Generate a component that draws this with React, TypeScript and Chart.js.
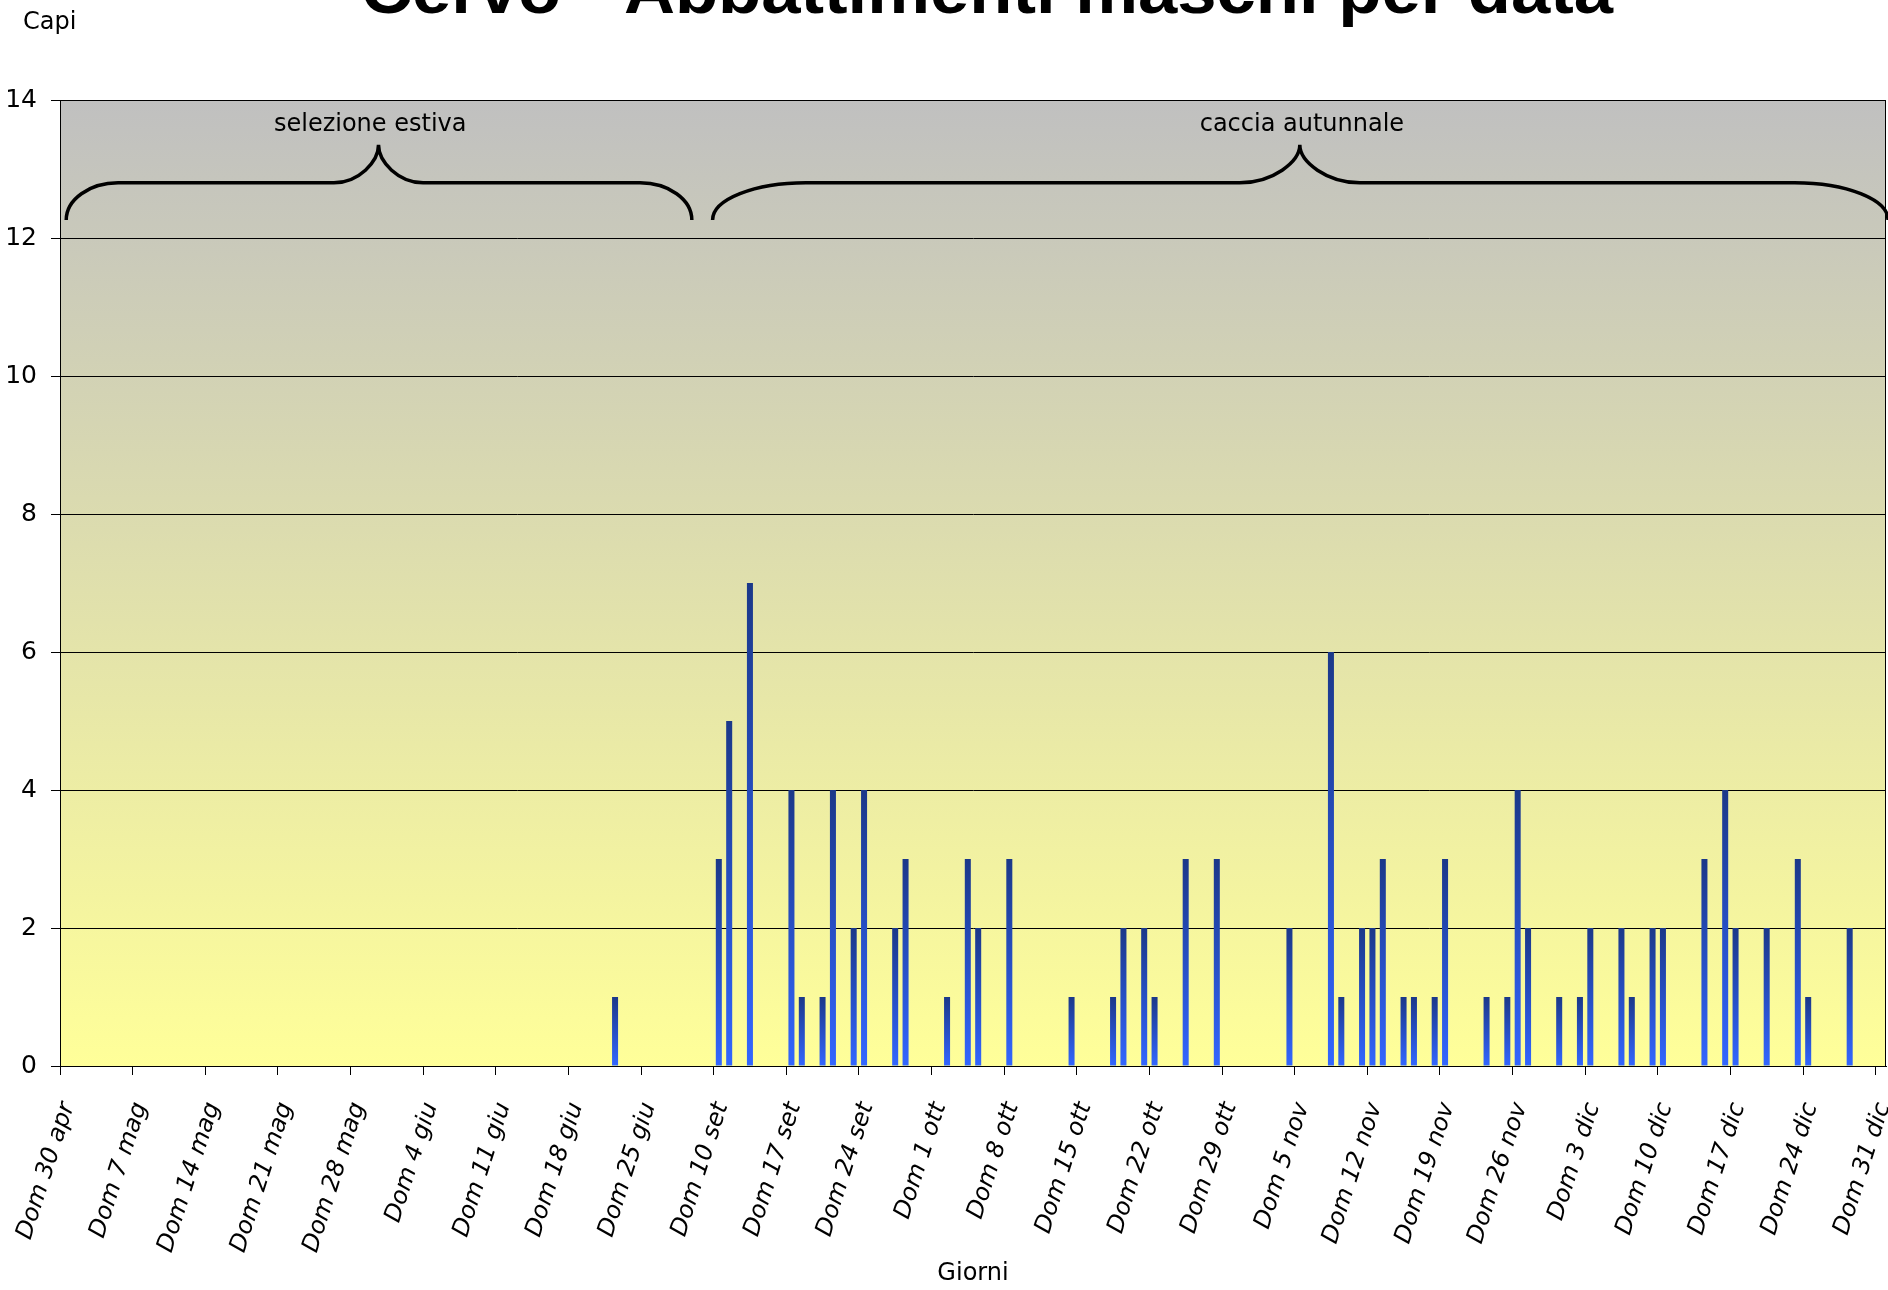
import React, { useEffect, useRef } from 'react';
import { Chart, registerables } from 'chart.js';

Chart.register(...registerables);

// ---- data ----
const weekdayNames = ['Dom', 'Lun', 'Mar', 'Mer', 'Gio', 'Ven', 'Sab'];
const monthNames = ['gen', 'feb', 'mar', 'apr', 'mag', 'giu', 'lug', 'ago', 'set', 'ott', 'nov', 'dic'];
// two hunting periods shown back to back (daily categories)
const periodStarts = [[2006, 3, 30], [2006, 8, 10]];
const periodLengths = [63, 113];

const tickLabels = [
  'Dom 30 apr', 'Dom 7 mag', 'Dom 14 mag', 'Dom 21 mag', 'Dom 28 mag', 'Dom 4 giu',
  'Dom 11 giu', 'Dom 18 giu', 'Dom 25 giu', 'Dom 10 set', 'Dom 17 set', 'Dom 24 set',
  'Dom 1 ott', 'Dom 8 ott', 'Dom 15 ott', 'Dom 22 ott', 'Dom 29 ott', 'Dom 5 nov',
  'Dom 12 nov', 'Dom 19 nov', 'Dom 26 nov', 'Dom 3 dic', 'Dom 10 dic', 'Dom 17 dic',
  'Dom 24 dic', 'Dom 31 dic',
];

// capi abbattuti per giorno (one row per week)
const capi = [
  0, 0, 0, 0, 0, 0, 0,
  0, 0, 0, 0, 0, 0, 0,
  0, 0, 0, 0, 0, 0, 0,
  0, 0, 0, 0, 0, 0, 0,
  0, 0, 0, 0, 0, 0, 0,
  0, 0, 0, 0, 0, 0, 0,
  0, 0, 0, 0, 0, 0, 0,
  0, 0, 0, 0, 1, 0, 0,
  0, 0, 0, 0, 0, 0, 0,
  3, 5, 0, 7, 0, 0, 0,
  4, 1, 0, 1, 4, 0, 2,
  4, 0, 0, 2, 3, 0, 0,
  0, 1, 0, 3, 2, 0, 0,
  3, 0, 0, 0, 0, 0, 1,
  0, 0, 0, 1, 2, 0, 2,
  1, 0, 0, 3, 0, 0, 3,
  0, 0, 0, 0, 0, 0, 2,
  0, 0, 0, 6, 1, 0, 2,
  2, 3, 0, 1, 1, 0, 1,
  3, 0, 0, 0, 1, 0, 1,
  4, 2, 0, 0, 1, 0, 1,
  2, 0, 0, 2, 1, 0, 2,
  2, 0, 0, 0, 3, 0, 4,
  2, 0, 0, 2, 0, 0, 3,
  1, 0, 0, 0, 2, 0, 0,
  0,
];

const yTicks = [0, 2, 4, 6, 8, 10, 12, 14];

function buildDays(start: number[], n: number): string[] {
  const out: string[] = [];
  for (let i = 0; i < n; i++) {
    const d = new Date(Date.UTC(start[0], start[1], start[2] + i));
    out.push(weekdayNames[d.getUTCDay()] + ' ' + d.getUTCDate() + ' ' + monthNames[d.getUTCMonth()]);
  }
  return out;
}
const categories = [
  ...buildDays(periodStarts[0], periodLengths[0]),
  ...buildDays(periodStarts[1], periodLengths[1]),
];

// ---- annotations (category units / value units) ----
const braces = [
  { label: 'selezione estiva', from: 0.6, to: 60.9, tip: 30.7, text: 29.9, corner: 5.0, tipW: 4.3 },
  { label: 'caccia autunnale', from: 62.9, to: 176.2, tip: 119.5, text: 119.7, corner: 9.0, tipW: 5.8 },
];
const braceLevels = { end: 12.26, bar: 12.8, tip: 13.35, text: 13.64 };

const FONT = '"DejaVu Sans", Verdana, sans-serif';
const BAR_TOP = '#1b3889';
const BAR_BOTTOM = '#3366ff';

const decorPlugin = {
  id: 'decor',
  beforeDraw(chart: any) {
    const { ctx, chartArea: a } = chart;
    if (!a) return;
    ctx.save();
    const g = ctx.createLinearGradient(0, a.top, 0, a.bottom);
    g.addColorStop(0, '#c0c0c0');
    g.addColorStop(1, '#ffff99');
    ctx.fillStyle = g;
    ctx.fillRect(a.left, a.top, a.right - a.left, a.bottom - a.top);
    ctx.restore();
  },
  beforeDatasetsDraw(chart: any) {
    const { ctx, chartArea: a } = chart;
    ctx.save();
    ctx.strokeStyle = '#000';
    ctx.lineWidth = 1;
    ctx.strokeRect(a.left + 0.5, a.top + 0.5, a.right - a.left - 1, a.bottom - a.top);
    ctx.restore();
  },
  afterDraw(chart: any) {
    const { ctx } = chart;
    const xs = chart.scales.x;
    const ys = chart.scales.y;
    const step = xs.getPixelForValue(1) - xs.getPixelForValue(0);
    const left = xs.getPixelForValue(0) - step / 2;
    const px = (u: number) => left + u * step;
    const yEnd = ys.getPixelForValue(braceLevels.end);
    const yBar = ys.getPixelForValue(braceLevels.bar);
    const yTip = ys.getPixelForValue(braceLevels.tip);
    const yText = ys.getPixelForValue(braceLevels.text);
    const k = 0.552;
    ctx.save();
    ctx.strokeStyle = '#000';
    ctx.lineWidth = 3.5;
    ctx.lineCap = 'butt';
    for (const b of braces) {
      const x0 = px(b.from), x1 = px(b.to), xm = px(b.tip);
      const r = b.corner * step, t = b.tipW * step;
      const hv = yEnd - yBar, tv = yBar - yTip;
      ctx.beginPath();
      ctx.moveTo(x0, yEnd);
      ctx.bezierCurveTo(x0, yEnd - k * hv, x0 + r - k * r, yBar, x0 + r, yBar);
      ctx.lineTo(xm - t, yBar);
      ctx.bezierCurveTo(xm - t + k * t, yBar, xm, yBar - k * tv, xm, yTip);
      ctx.bezierCurveTo(xm, yBar - k * tv, xm + t - k * t, yBar, xm + t, yBar);
      ctx.lineTo(x1 - r, yBar);
      ctx.bezierCurveTo(x1 - r + k * r, yBar, x1, yEnd - k * hv, x1, yEnd);
      ctx.stroke();
      ctx.fillStyle = '#000';
      ctx.font = '24px ' + FONT;
      ctx.textAlign = 'center';
      ctx.textBaseline = 'middle';
      ctx.fillText(b.label, px(b.text), yText);
    }
    // y unit label
    ctx.font = '24px ' + FONT;
    ctx.textAlign = 'left';
    ctx.textBaseline = 'middle';
    ctx.fillText('Capi', 23, 23);
    // title (partly outside the canvas, as in the reference)
    const title = 'Cervo - Abbattimenti maschi per data';
    ctx.font = 'bold 66px "Liberation Sans", Arial, sans-serif';
    const w = ctx.measureText(title).width;
    const target = 1252;
    ctx.translate(987, 13);
    ctx.scale(target / w, 1);
    ctx.textAlign = 'center';
    ctx.textBaseline = 'alphabetic';
    ctx.fillText(title, 0, 0);
    ctx.restore();
  },
};

export default function App() {
  const ref = useRef<HTMLCanvasElement | null>(null);
  useEffect(() => {
    if (!ref.current) return;
    const chart = new Chart(ref.current, {
      type: 'bar',
      data: {
        labels: categories,
        datasets: [
          {
            label: 'Capi',
            data: capi,
            categoryPercentage: 1,
            barPercentage: 0.58,
            borderWidth: 0,
            backgroundColor: (c: any) => {
              const chart = c.chart;
              if (c.type !== 'data' || !chart.chartArea) return BAR_BOTTOM;
              const ys = chart.scales.y;
              const v = c.parsed ? c.parsed.y : c.raw;
              const top = ys.getPixelForValue(v);
              const base = ys.getPixelForValue(0);
              if (!(base > top)) return BAR_BOTTOM;
              const g = chart.ctx.createLinearGradient(0, top, 0, base);
              g.addColorStop(0, BAR_TOP);
              g.addColorStop(1, BAR_BOTTOM);
              return g;
            },
          },
        ],
      },
      options: {
        responsive: true,
        maintainAspectRatio: false,
        animation: false,
        layout: { autoPadding: false, padding: { top: 100, right: 2, left: 0, bottom: 0 } },
        plugins: {
          legend: { display: false },
          tooltip: { enabled: false },
          title: { display: false },
        },
        scales: {
          x: {
            type: 'category',
            offset: true,
            afterFit: (s: any) => { s.height = 224; s.paddingLeft = 0; s.paddingRight = 0; },
            grid: {
              offset: true,
              drawOnChartArea: false,
              drawTicks: true,
              tickLength: 9,
              color: (c: any) => (c.index % 7 === 0 ? '#000' : 'rgba(0,0,0,0)'),
            },
            border: { display: true, color: '#000', width: 1 },
            ticks: {
              autoSkip: false,
              minRotation: 72,
              maxRotation: 72,
              padding: 24,
              labelOffset: 3,
              color: '#000',
              font: { family: FONT, size: 24, style: 'italic' },
              callback: (v: any, i: number) => (i % 7 === 0 ? tickLabels[i / 7] : ''),
            },
            title: {
              display: true,
              text: 'Giorni',
              color: '#000',
              font: { family: FONT, size: 24 },
              padding: { top: 0, bottom: 2 },
            },
          },
          y: {
            type: 'linear',
            min: 0,
            max: 14,
            afterFit: (s: any) => { s.width = 60; },
            afterBuildTicks: (s: any) => { s.ticks = yTicks.map((v) => ({ value: v })); },
            grid: { color: '#000', lineWidth: 1, tickLength: 9, drawTicks: true },
            border: { display: true, color: '#000', width: 1 },
            ticks: {
              color: '#000',
              padding: 14,
              font: { family: FONT, size: 25 },
            },
          },
        },
      },
      plugins: [decorPlugin],
    });
    return () => chart.destroy();
  }, []);
  return (
    <div style={{ position: 'fixed', left: 0, top: 0, width: 1888, height: 1290, background: '#fff' }}>
      <canvas ref={ref} />
    </div>
  );
}
